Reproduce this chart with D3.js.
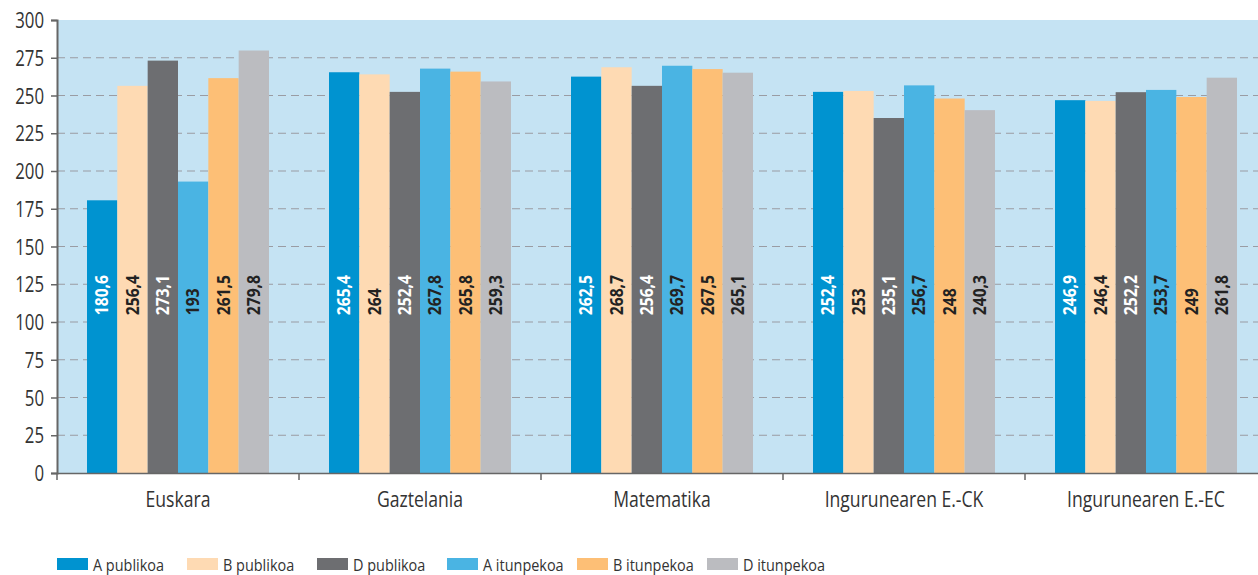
<!DOCTYPE html>
<html>
<head>
    <title></title>
    <meta charset="utf-8">
    <style>
        body { margin: 0; background: #fff; }
        text { font-family: 'Open Sans', 'Noto Sans', sans-serif; }
    </style>
</head>
<body>
<script src="https://d3js.org/d3.v7.min.js"></script>
<script>
    var categories = ['Euskara', 'Gaztelania', 'Matematika', 'Ingurunearen E.-CK', 'Ingurunearen E.-EC'];
    var seriesNames = ['A publikoa', 'B publikoa', 'D publikoa', 'A itunpekoa', 'B itunpekoa', 'D itunpekoa'];
    var aPublikoa = [180.6, 265.4, 262.5, 252.4, 246.9];
    var bPublikoa = [256.4, 264, 268.7, 253, 246.4];
    var dPublikoa = [273.1, 252.4, 256.4, 235.1, 252.2];
    var aItunpekoa = [193, 267.8, 269.7, 256.7, 253.7];
    var bItunpekoa = [261.5, 265.8, 267.5, 248, 249];
    var dItunpekoa = [279.8, 259.3, 265.1, 240.3, 261.8];
    var yTicks = [0, 25, 50, 75, 100, 125, 150, 175, 200, 225, 250, 275, 300];

    var series = [aPublikoa, bPublikoa, dPublikoa, aItunpekoa, bItunpekoa, dItunpekoa];
    var colors = ['#0093d0', '#fedab3', '#6d6e71', '#4ab4e3', '#fdbf76', '#bbbcc0'];
    var labelColors = ['#fff', '#222', '#fff', '#222', '#222', '#222'];

    var W = 1258, H = 575;
    var plot = { left: 57, top: 20, bottom: 473, right: 1258 };
    var narrow = 0.8;   // squeeze text a little, the original font is condensed

    var svg = d3.select('body').append('svg')
        .attr('width', W)
        .attr('height', H);

    var x0 = d3.scaleBand().domain(categories).range([plot.left, plot.left + 242 * 5]);
    var x1 = d3.scaleBand().domain(d3.range(series.length)).range([30, 212]);
    var y = d3.scaleLinear().domain([0, 300]).range([plot.bottom, plot.top]);

    // plot background
    svg.append('rect')
        .attr('x', plot.left)
        .attr('y', plot.top)
        .attr('width', plot.right - plot.left)
        .attr('height', plot.bottom - plot.top)
        .attr('fill', '#c5e3f3');

    // dashed grid
    svg.append('g').selectAll('line')
        .data(yTicks.filter(function (d) { return d > 0 && d < 300; }))
        .enter().append('line')
        .attr('x1', plot.left)
        .attr('x2', plot.right)
        .attr('y1', function (d) { return y(d); })
        .attr('y2', function (d) { return y(d); })
        .attr('stroke', '#9a9ca3')
        .attr('stroke-width', 1.2)
        .attr('stroke-dasharray', '8,5');

    var groups = svg.append('g').selectAll('g')
        .data(categories)
        .enter().append('g')
        .attr('transform', function (d) { return 'translate(' + x0(d) + ',0)'; });

    groups.each(function (cat, ci) {
        var g = d3.select(this);
        series.forEach(function (vals, si) {
            g.append('rect')
                .attr('x', x1(si))
                .attr('y', y(vals[ci]))
                .attr('width', x1.bandwidth())
                .attr('height', y(0) - y(vals[ci]))
                .attr('fill', colors[si]);
            var lx = x1(si) + x1.bandwidth() / 2 + 6;
            var ly = y(104.5);
            g.append('text')
                .attr('transform', 'translate(' + lx + ',' + ly + ') rotate(-90) scale(0.92,1.05)')
                .attr('fill', labelColors[si])
                .attr('font-weight', 700)
                .attr('font-size', 17)
                .text(String(vals[ci]).replace('.', ','));
        });
    });

    // y axis
    var yAxis = svg.append('g')
        .attr('transform', 'translate(' + plot.left + ',0)')
        .call(d3.axisLeft(y).tickValues(yTicks).tickSize(6));
    yAxis.select('.domain').attr('stroke', '#666').attr('stroke-width', 2);
    yAxis.selectAll('.tick line').attr('stroke', '#666').attr('stroke-width', 1.5);
    yAxis.selectAll('.tick text')
        .attr('fill', '#333')
        .attr('x', -13 / narrow)
        .attr('dy', '0.36em')
        .attr('transform', 'scale(' + narrow + ',1)')
        .style('font-size', '21px');

    // x axis
    var xAxis = svg.append('g')
        .attr('transform', 'translate(0,' + plot.bottom + ')')
        .call(d3.axisBottom(x0).tickSize(0));
    xAxis.select('.domain').attr('stroke', '#666').attr('stroke-width', 1.5);
    xAxis.selectAll('.tick text')
        .attr('fill', '#333')
        .attr('y', 34)
        .attr('dy', 0)
        .attr('transform', 'scale(' + narrow + ',1)')
        .style('font-size', '22px');
    svg.append('g').selectAll('line')
        .data(d3.range(categories.length + 1))
        .enter().append('line')
        .attr('x1', function (i) { return plot.left + x0.step() * i; })
        .attr('x2', function (i) { return plot.left + x0.step() * i; })
        .attr('y1', plot.bottom)
        .attr('y2', plot.bottom + 7)
        .attr('stroke', '#666')
        .attr('stroke-width', 1.5);

    // legend
    var legend = svg.append('g').selectAll('g')
        .data(seriesNames)
        .enter().append('g')
        .attr('transform', function (d, i) { return 'translate(' + (57 + i * 130) + ',558)'; });
    legend.append('rect')
        .attr('width', 31)
        .attr('height', 12)
        .attr('fill', function (d, i) { return colors[i]; });
    legend.append('text')
        .attr('x', 36 / 0.85)
        .attr('y', 13)
        .attr('transform', 'scale(0.85,1)')
        .attr('fill', '#333')
        .style('font-size', '17px')
        .text(function (d) { return d; });
</script>
</body>
</html>
